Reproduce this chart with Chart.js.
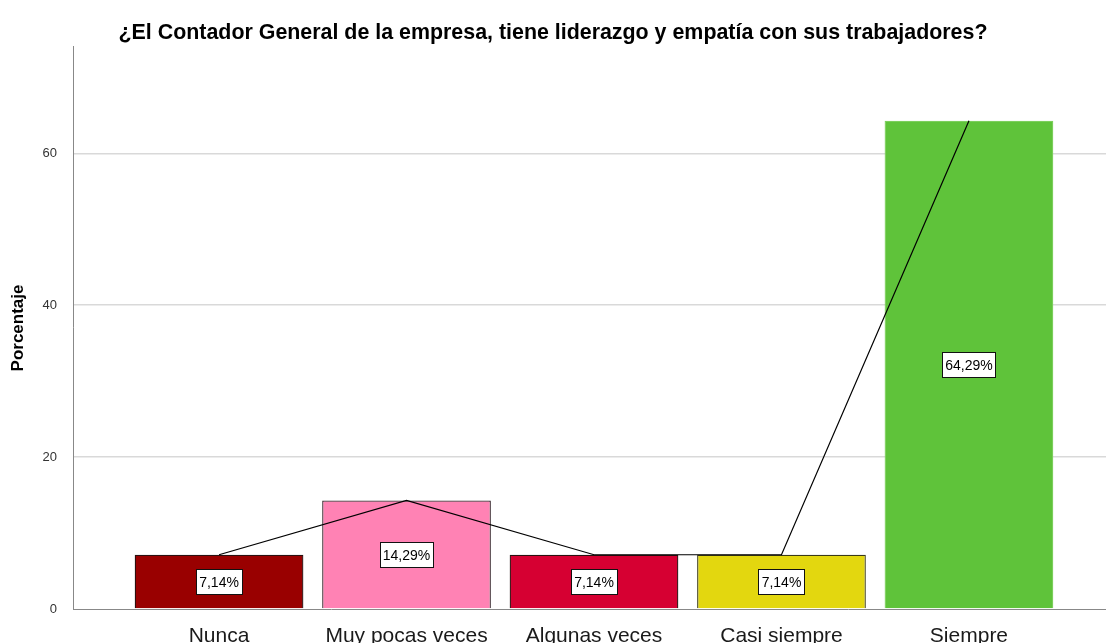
<!DOCTYPE html>
<html>
<head>
<meta charset="utf-8">
<script src="https://cdn.jsdelivr.net/npm/chart.js@4.4.1/dist/chart.umd.min.js"></script>
<style>
  html, body { margin: 0; padding: 0; background: #fff; }
  #wrap { width: 1106px; height: 643px; }
</style>
</head>
<body>
<div id="wrap"><canvas id="grafico" width="1106" height="643"></canvas></div>
<script>
// Datos del gráfico
const categorias = ['Nunca', 'Muy pocas veces', 'Algunas veces', 'Casi siempre', 'Siempre'];
const porcentajes = [7.14, 14.29, 7.14, 7.14, 64.29];
const etiquetas = ['7,14%', '14,29%', '7,14%', '7,14%', '64,29%'];
const ticksY = [0, 20, 40, 60];

const colores = ['#990000', '#ff82b4', '#d60032', '#e3d70f', '#5fc33a'];
const bordes = ['#2a1010', '#3a2a30', '#2a1010', '#3a3a18', '#7ccf5c'];

const puntos = porcentajes.map((v, i) => ({ x: i, y: v }));

// etiquetas en caja blanca dentro de cada barra
const cajasValores = {
    id: 'cajasValores',
    afterDatasetsDraw(chart) {
        const ctx = chart.ctx;
        const xs = chart.scales.x, ys = chart.scales.y;
        ctx.save();
        ctx.font = '14px "Liberation Sans", Arial, sans-serif';
        ctx.textAlign = 'center';
        ctx.textBaseline = 'middle';
        porcentajes.forEach((v, i) => {
            const cx = xs.getPixelForValue(i);
            const cy = ys.getPixelForValue(v / 2);
            const w = Math.round(ctx.measureText(etiquetas[i]).width + 6);
            const h = 25;
            const x0 = Math.round(cx - w / 2) + 0.5, y0 = Math.round(cy - h / 2) + 0.5;
            ctx.fillStyle = '#fff';
            ctx.fillRect(x0, y0, w, h);
            ctx.strokeStyle = '#111';
            ctx.lineWidth = 1;
            ctx.strokeRect(x0, y0, w, h);
            ctx.fillStyle = '#000';
            ctx.fillText(etiquetas[i], cx, cy + 1);
        });
        ctx.restore();
    }
};

new Chart(document.getElementById('grafico'), {
    type: 'bar',
    data: {
        datasets: [
            {
                type: 'line',
                data: puntos,
                borderColor: '#000',
                borderWidth: 1.2,
                pointRadius: 0,
                tension: 0,
                order: 0
            },
            {
                type: 'bar',
                data: puntos,
                backgroundColor: colores,
                borderColor: bordes,
                borderWidth: 1.3,
                barPercentage: 0.9,
                categoryPercentage: 1,
                order: 1
            }
        ]
    },
    options: {
        responsive: false,
        animation: false,
        devicePixelRatio: 1,
        layout: { padding: 0 },
        plugins: {
            legend: { display: false },
            tooltip: { enabled: false },
            title: {
                display: true,
                text: '¿El Contador General de la empresa, tiene liderazgo y empatía con sus trabajadores?',
                color: '#000',
                font: { family: '"Liberation Sans", Arial, sans-serif', size: 21.4, weight: 'bold' },
                padding: { top: 20, bottom: 1.3 }
            }
        },
        scales: {
            x: {
                type: 'linear',
                offset: false,
                min: -0.779,
                max: 4.731,
                afterBuildTicks: s => { s.ticks = categorias.map((c, i) => ({ value: i })); },
                afterFit: s => { s.height = 34; },
                grid: { display: false },
                border: { color: '#888', width: 1 },
                ticks: {
                    autoSkip: false,
                    maxRotation: 0,
                    padding: 7,
                    color: '#1a1a1a',
                    font: { family: '"Liberation Sans", Arial, sans-serif', size: 21 },
                    callback: v => categorias[v]
                }
            },
            y: {
                min: 0,
                max: 74,
                afterBuildTicks: s => { s.ticks = ticksY.map(v => ({ value: v })); },
                afterFit: s => { s.width = 73; },
                grid: {
                    drawTicks: false,
                    color: c => (c.tick && c.tick.value === 0) ? 'rgba(0,0,0,0)' : '#d9d9d9',
                    lineWidth: 1.5
                },
                border: { color: '#888', width: 1 },
                ticks: {
                    padding: 16,
                    color: '#333',
                    font: { family: '"Liberation Sans", Arial, sans-serif', size: 13 }
                },
                title: {
                    display: true,
                    text: 'Porcentaje',
                    color: '#000',
                    font: { family: '"Liberation Sans", Arial, sans-serif', size: 17, weight: 'bold' },
                    padding: { top: 8, bottom: 0 }
                }
            }
        }
    },
    plugins: [cajasValores]
});
</script>
</body>
</html>
